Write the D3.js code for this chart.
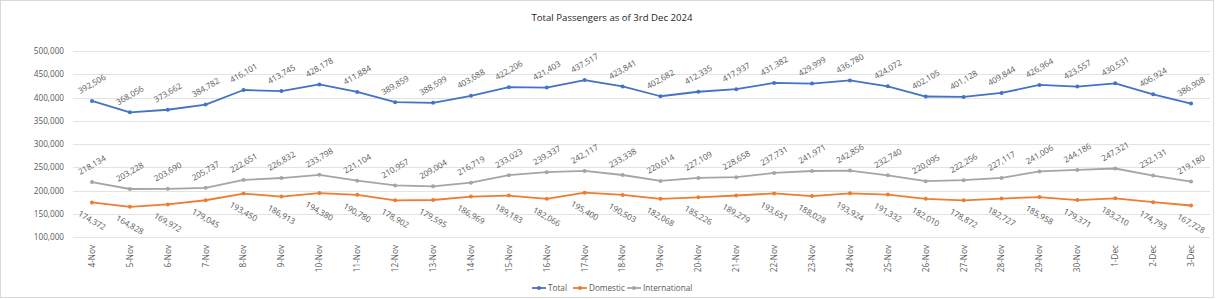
<!DOCTYPE html>
<html>
<head>
<meta charset="utf-8">
<script src="https://cdn.jsdelivr.net/npm/d3@7"></script>
<style>
  body { margin: 0; background: #fff; }
  text { font-family: "Open Sans", "Noto Sans", sans-serif; }
</style>
</head>
<body>
<div id="chart"></div>
<script>
// data
var dates = ['4-Nov','5-Nov','6-Nov','7-Nov','8-Nov','9-Nov','10-Nov','11-Nov','12-Nov','13-Nov',
  '14-Nov','15-Nov','16-Nov','17-Nov','18-Nov','19-Nov','20-Nov','21-Nov','22-Nov','23-Nov',
  '24-Nov','25-Nov','26-Nov','27-Nov','28-Nov','29-Nov','30-Nov','1-Dec','2-Dec','3-Dec'];
var total = [392506,368056,373662,384782,416101,413745,428178,411884,389859,388599,
  403688,422206,421403,437517,423841,402682,412335,417937,431382,429999,
  436780,424072,402105,401128,409844,426964,423557,430531,406924,386908];
var domestic = [174372,164828,169972,179045,193450,186913,194380,190780,178902,179595,
  186969,189183,182066,195400,190503,182068,185226,189279,193651,188028,
  193924,191332,182010,178872,182727,185958,179371,183210,174793,167728];
var international = [218134,203228,203690,205737,222651,226832,233798,221104,210957,209004,
  216719,233023,239337,242117,233338,220614,227109,228658,237731,241971,
  242856,232740,220095,222256,227117,241006,244186,247321,232131,219180];
var yTicks = [100000,150000,200000,250000,300000,350000,400000,450000,500000];

var series = [
  { name: 'Total', values: total, color: '#4472C4', labelPos: 'above' },
  { name: 'Domestic', values: domestic, color: '#ED7D31', labelPos: 'below' },
  { name: 'International', values: international, color: '#A5A5A5', labelPos: 'above' }
];

var width = 1216, height = 299;
var margin = { top: 51, right: 5, bottom: 62, left: 73 };

var svg = d3.select('#chart').append('svg')
  .attr('width', width)
  .attr('height', height);

svg.append('rect')
  .attr('x', 0.5).attr('y', 0.5)
  .attr('width', width - 3).attr('height', height - 2)
  .attr('fill', '#fff').attr('stroke', '#d9d9d9');

svg.append('text')
  .attr('x', 612).attr('y', 21)
  .attr('text-anchor', 'middle')
  .attr('font-size', 9.6)
  .attr('fill', '#262626')
  .text('Total Passengers as of 3rd Dec 2024');

var x = d3.scaleBand()
  .domain(dates)
  .range([margin.left, width - margin.right - 1])
  .padding(0);

var y = d3.scaleLinear()
  .domain([100000, 500000])
  .range([height - margin.bottom, margin.top]);

var fmt = d3.format(',');

// gridlines
svg.append('g')
  .selectAll('line')
  .data(yTicks)
  .enter().append('line')
  .attr('x1', margin.left).attr('x2', width - margin.right - 1)
  .attr('y1', d => Math.round(y(d)) + 0.5).attr('y2', d => Math.round(y(d)) + 0.5)
  .attr('stroke', '#e3e3e3');

var yAxis = g => g
  .attr('transform', `translate(${margin.left},0)`)
  .call(d3.axisLeft(y).tickValues(yTicks).tickFormat(fmt).tickSize(0).tickPadding(9))
  .call(g => g.select('.domain').remove())
  .call(g => g.selectAll('text').attr('font-size', 8.2).attr('fill', '#595959')
    .style('font-family', '"Open Sans", sans-serif'));

var xAxis = g => g
  .attr('transform', `translate(0,${height - margin.bottom})`)
  .call(d3.axisBottom(x).tickSize(0).tickPadding(0))
  .call(g => g.select('.domain').remove())
  .call(g => g.selectAll('text')
    .attr('font-size', 8.2).attr('fill', '#595959')
    .style('font-family', '"Open Sans", sans-serif')
    .attr('text-anchor', 'end')
    .attr('dy', '0.35em')
    .attr('transform', 'translate(0,8) rotate(-90)')
    .attr('x', 0).attr('y', 0));

svg.append('g').call(yAxis);
svg.append('g').call(xAxis);

var line = d3.line()
  .x((d, i) => x(dates[i]) + x.bandwidth() / 2)
  .y(d => y(d));

series.forEach(s => {
  var g = svg.append('g');
  g.append('path')
    .datum(s.values)
    .attr('fill', 'none')
    .attr('stroke', s.color)
    .attr('stroke-width', 1.8)
    .attr('stroke-linejoin', 'round')
    .attr('d', line);

  g.selectAll('circle')
    .data(s.values)
    .enter().append('circle')
    .attr('cx', (d, i) => x(dates[i]) + x.bandwidth() / 2)
    .attr('cy', d => y(d))
    .attr('r', 2)
    .attr('fill', s.color);

  g.selectAll('text')
    .data(s.values)
    .enter().append('text')
    .attr('font-size', 8.2)
    .attr('fill', '#595959')
    .attr('text-anchor', 'middle')
    .attr('dy', '0.35em')
    .attr('transform', (d, i) => {
      var cx = x(dates[i]) + x.bandwidth() / 2;
      var cy = y(d);
      if (s.labelPos === 'above') return `translate(${cx},${cy - 17}) rotate(-30)`;
      return `translate(${cx},${cy + 18}) rotate(30)`;
    })
    .text(d => fmt(d));
});

// legend
var legend = svg.append('g').attr('transform', 'translate(532,288)');
var offsets = [0, 41, 95];
series.forEach((s, i) => {
  var lg = legend.append('g').attr('transform', `translate(${offsets[i]},0)`);
  lg.append('line').attr('x1', 0).attr('x2', 14).attr('y1', 0).attr('y2', 0)
    .attr('stroke', s.color).attr('stroke-width', 1.8);
  lg.append('circle').attr('cx', 7).attr('cy', 0).attr('r', 2).attr('fill', s.color);
  lg.append('text').attr('x', 16).attr('y', 0).attr('dy', '0.35em')
    .attr('font-size', 8.2).attr('fill', '#595959').text(s.name);
});
</script>
</body>
</html>
